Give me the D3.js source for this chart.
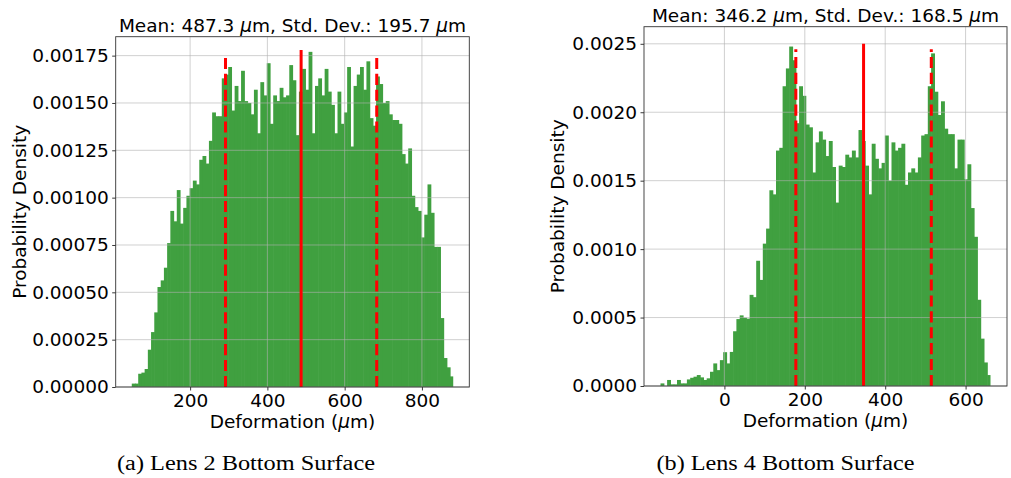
<!DOCTYPE html>
<html>
<head>
<meta charset="utf-8">
<script src="https://cdn.jsdelivr.net/npm/d3@7"></script>
<style>
  html, body { margin: 0; padding: 0; background: #fff; }
  svg { display: block; }
  text { font-family: "DejaVu Sans", sans-serif; fill: #000; }
</style>
</head>
<body>
<svg id="chart" width="1011" height="478"></svg>
<script>
// ---------- data ----------
const leftDensity = [
  0.000018, 0.000018, 0.00007, 0.000076, 0.000095, 0.000197, 0.00029, 0.000394, 0.000528, 0.000563,
  0.00063, 0.00076, 0.00093, 0.000875, 0.00104, 0.000863, 0.000946, 0.00101, 0.00105, 0.00109,
  0.00107, 0.0012, 0.00122, 0.00118, 0.0013, 0.00145, 0.00143, 0.00143, 0.00163, 0.00165,
  0.00169, 0.00146, 0.00159, 0.00151, 0.00167, 0.00151, 0.0015, 0.00144, 0.00157, 0.00134,
  0.00161, 0.00154, 0.00171, 0.00139, 0.00154, 0.00151, 0.00158, 0.00153, 0.00154, 0.0017,
  0.00162, 0.00133, 0.00156, 0.00168, 0.00157, 0.00177, 0.00134, 0.00159, 0.00163, 0.00154,
  0.00168, 0.00156, 0.00149, 0.00134, 0.00156, 0.00139, 0.00145, 0.00169, 0.00127, 0.00159,
  0.00165, 0.00169, 0.00157, 0.00172, 0.00142, 0.00138, 0.00164, 0.0016, 0.0015, 0.00151,
  0.00144, 0.00141, 0.00141, 0.00139, 0.00123, 0.00118, 0.00126, 0.00101, 0.00095, 0.00093,
  0.00079, 0.00091, 0.00107, 0.00092, 0.00074, 0.00074, 0.000364, 0.000153, 0.000104, 0.000056
];
const rightDensity = [
  0.000019, 0, 0.000044, 0.000012, 0.000012, 0.000044, 0.000019, 0.000019, 0.000048, 0.00006,
  0.000068, 0.00008, 0.000063, 0.000044, 0.000056, 0.000104, 0.000165, 0.000116, 0.000189, 0.000247,
  0.000165, 0.000249, 0.0004, 0.000489, 0.000516, 0.000499, 0.000492, 0.000666, 0.000649, 0.000915,
  0.000775, 0.00104, 0.00115, 0.00143, 0.0014, 0.00172, 0.00174, 0.00219, 0.00232, 0.00248,
  0.00238, 0.00192, 0.00219, 0.00212, 0.00191, 0.00189, 0.00156, 0.00178, 0.00186, 0.0018,
  0.00168, 0.00179, 0.0016, 0.00134, 0.00161, 0.0016, 0.00169, 0.00167, 0.00172, 0.00167,
  0.00187, 0.00179, 0.00161, 0.0014, 0.00177, 0.00166, 0.00159, 0.00163, 0.00183, 0.0015,
  0.00178, 0.00172, 0.00174, 0.00177, 0.00147, 0.00156, 0.00159, 0.00156, 0.00167, 0.00183,
  0.00184, 0.00219, 0.00243, 0.00215, 0.00198, 0.00208, 0.00188, 0.00184, 0.00184, 0.00159,
  0.0018, 0.0018, 0.00151, 0.00162, 0.0013, 0.00109, 0.00063, 0.000346, 0.000172, 0.00008
];
const leftBinRange = [49, 881];
const rightBinRange = [-159, 662];
const leftStats = { mean: 487.3, std: 195.7 };
const rightStats = { mean: 346.2, std: 168.5 };
const leftLineTops = [0.00178, 0.001745];   // [mean line top, std line top]
const rightLineTops = [0.0025, 0.00246];
const leftYMax = 0.00185;
const rightYMax = 0.002625;
const leftXTicks = [200, 400, 600, 800];
const rightXTicks = [0, 200, 400, 600];
const leftYTicks = [0, 0.00025, 0.0005, 0.00075, 0.001, 0.00125, 0.0015, 0.00175];
const rightYTicks = [0, 0.0005, 0.001, 0.0015, 0.002, 0.0025];
const leftYTickLabels = ["0.00000", "0.00025", "0.00050", "0.00075", "0.00100", "0.00125", "0.00150", "0.00175"];
const rightYTickLabels = ["0.0000", "0.0005", "0.0010", "0.0015", "0.0020", "0.0025"];
const captions = ["(a) Lens 2 Bottom Surface", "(b) Lens 4 Bottom Surface"];

// ---------- drawing ----------
const svg = d3.select("#chart");
const FS = 18.5;

function drawPanel(cfg) {
  const { box, density, binRange, stats, lineTops, yMax, xTicks, yTicks, yTickLabels, caption, ylabelX, capX } = cfg;
  const n = density.length;
  const span = binRange[1] - binRange[0];
  const margin = span * 0.05;
  const x = d3.scaleLinear().domain([binRange[0] - margin, binRange[1] + margin]).range([box.x0, box.x1]);
  const y = d3.scaleLinear().domain([0, yMax]).range([box.y1, box.y0]);
  const edges = d3.range(n + 1).map(i => binRange[0] + i * span / n);
  const g = svg.append("g");

  // bars
  g.append("g").selectAll("rect").data(density).join("rect")
    .attr("x", (d, i) => x(edges[i]))
    .attr("width", (d, i) => x(edges[i + 1]) - x(edges[i]) + (i < n - 1 ? 0.6 : 0))
    .attr("y", d => y(d))
    .attr("height", d => y(0) - y(d))
    .attr("fill", "#40a040");

  // grid (above bars)
  const grid = g.append("g").attr("stroke", "#b0b0b0").attr("stroke-opacity", 0.6).attr("stroke-width", 1);
  grid.selectAll(".gx").data(xTicks).join("line")
    .attr("x1", d => x(d)).attr("x2", d => x(d)).attr("y1", box.y0).attr("y2", box.y1);
  grid.selectAll(".gy").data(yTicks).join("line")
    .attr("y1", d => y(d)).attr("y2", d => y(d)).attr("x1", box.x0).attr("x2", box.x1);

  // mean / std lines
  g.append("line")
    .attr("x1", x(stats.mean)).attr("x2", x(stats.mean))
    .attr("y1", y(0)).attr("y2", y(lineTops[0]))
    .attr("stroke", "red").attr("stroke-width", 3);
  [stats.mean - stats.std, stats.mean + stats.std].forEach(v => {
    g.append("line")
      .attr("x1", x(v)).attr("x2", x(v))
      .attr("y1", y(0)).attr("y2", y(lineTops[1]))
      .attr("stroke", "red").attr("stroke-width", 3)
      .attr("stroke-dasharray", "11.1,4.8");
  });

  // axes
  const xAxis = d3.axisBottom(x).tickValues(xTicks).tickSize(3.5).tickPadding(3.5).tickFormat(d3.format("d"));
  const yAxis = d3.axisLeft(y).tickValues(yTicks).tickSize(3.5).tickPadding(3.5).tickFormat((d, i) => yTickLabels[i]);
  const gx = g.append("g").attr("transform", `translate(0,${box.y1})`).call(xAxis);
  const gy = g.append("g").attr("transform", `translate(${box.x0},0)`).call(yAxis);
  [gx, gy].forEach(a => {
    a.select(".domain").remove();
    a.selectAll(".tick line").attr("stroke", "#222").attr("stroke-width", 0.9);
    a.selectAll(".tick text").attr("font-size", FS).attr("font-family", "DejaVu Sans").attr("fill", "#000");
  });

  // spines
  g.append("rect")
    .attr("x", box.x0).attr("y", box.y0)
    .attr("width", box.x1 - box.x0).attr("height", box.y1 - box.y0)
    .attr("fill", "none").attr("stroke", "#333").attr("stroke-width", 0.9);

  // title
  const cx = (box.x0 + box.x1) / 2;
  const t = g.append("text").attr("x", cx).attr("y", box.y0 - 5).attr("text-anchor", "middle").attr("font-size", FS);
  t.append("tspan").text(`Mean: ${stats.mean.toFixed(1)} `);
  t.append("tspan").attr("font-style", "italic").text("\u03bc");
  t.append("tspan").text(`m, Std. Dev.: ${stats.std.toFixed(1)} `);
  t.append("tspan").attr("font-style", "italic").text("\u03bc");
  t.append("tspan").text("m");

  // x label
  const xl = g.append("text").attr("x", cx).attr("y", box.y1 + 41).attr("text-anchor", "middle").attr("font-size", FS);
  xl.append("tspan").text("Deformation (");
  xl.append("tspan").attr("font-style", "italic").text("\u03bc");
  xl.append("tspan").text("m)");

  // y label
  const cy = (box.y0 + box.y1) / 2;
  g.append("text")
    .attr("transform", `translate(${ylabelX},${cy}) rotate(-90)`)
    .attr("text-anchor", "middle").attr("dy", "0.35em").attr("font-size", FS)
    .text("Probability Density");

  // caption
  g.append("text").attr("x", capX).attr("y", 470).attr("text-anchor", "middle")
    .attr("font-size", 20)
    .attr("textLength", 258).attr("lengthAdjust", "spacingAndGlyphs")
    .style("font-family", "'Liberation Serif', serif")
    .text(caption);
}

drawPanel({
  box: { x0: 115.7, x1: 469.3, y0: 36.7, y1: 387 },
  density: leftDensity, binRange: leftBinRange, stats: leftStats, lineTops: leftLineTops,
  yMax: leftYMax, xTicks: leftXTicks, yTicks: leftYTicks, yTickLabels: leftYTickLabels,
  caption: captions[0], ylabelX: 20, capX: 246
});
drawPanel({
  box: { x0: 644, x1: 1007, y0: 26.7, y1: 386 },
  density: rightDensity, binRange: rightBinRange, stats: rightStats, lineTops: rightLineTops,
  yMax: rightYMax, xTicks: rightXTicks, yTicks: rightYTicks, yTickLabels: rightYTickLabels,
  caption: captions[1], ylabelX: 558, capX: 785.5
});
</script>
</body>
</html>
